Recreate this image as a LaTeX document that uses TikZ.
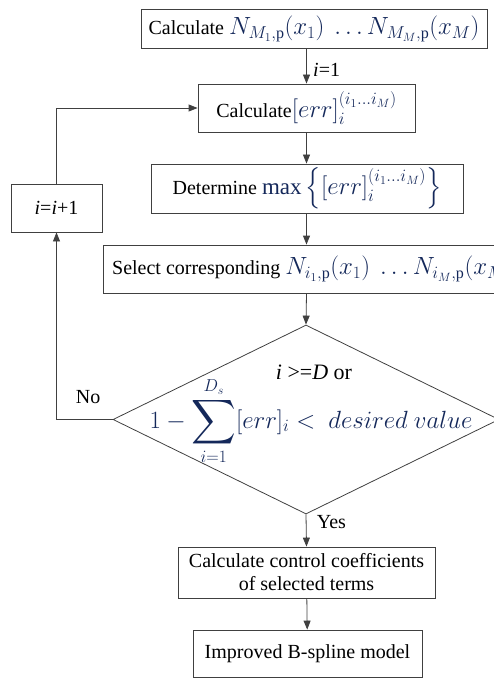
\documentclass[tikz,border=0pt]{standalone}
\usepackage{amsmath}
\usepackage{amssymb}
\usepackage{fontspec}
\setmainfont{LiberationSerif}[Extension=.ttf, UprightFont=*-Regular, ItalicFont=*-Italic, BoldFont=*-Bold, BoldItalicFont=*-BoldItalic]
\usetikzlibrary{arrows.meta,shapes.geometric}
\definecolor{mathblue}{RGB}{20,40,90}
\newcommand{\mth}[1]{{\color{mathblue}\fontsize{23}{27}\selectfont$#1$}}
\newcommand{\bigsum}{\mathop{\vcenter{\hbox{\fontsize{31}{35}\selectfont$\displaystyle\sum$}}}\limits}

\begin{document}
\begin{tikzpicture}[x=1pt, y=-1pt, >={Triangle[length=9pt,width=7pt]},
    every node/.style={font=\rmfamily\fontsize{20}{23}\selectfont},
    flowbox/.style={draw=black!75, line width=0.8pt, inner sep=0pt},
    flowline/.style={draw=black!75, line width=0.8pt}]
    \useasboundingbox (0,0) rectangle (493,679);
    \node[flowbox, minimum width=346, minimum height=39] (calcN) at (314,29) {Calculate \mth{N_{M_1,\mathrm{p}}(x_1)\ \ldots N_{M_M,\mathrm{p}}(x_M)}};
    \node[flowbox, minimum width=217, minimum height=48] (calcErr) at (306.5,108) {Calculate\mth{[err]_i^{(i_1\ldots i_M)}}\hspace{8pt}};
    \node[flowbox, minimum width=312, minimum height=49] (maxErr) at (307,188.5) {Determine \mth{\max\Big\{[err]_i^{(i_1\ldots i_M)}\Big\}}};
    \node[flowbox, minimum width=91, minimum height=48] (inc) at (56.5,208) {\textit{i}=\textit{i}+1};
    \node[flowbox, anchor=west, minimum width=420, minimum height=48] (select) at (103,269) {Select corresponding \mth{N_{i_1,\mathrm{p}}(x_1)\ \ldots N_{i_M,\mathrm{p}}(x_M)}};
    \node[flowbox, shape=diamond, minimum width=386, minimum height=189] (check) at (306,419.5) {};
    \node[font=\rmfamily\fontsize{22}{26}\selectfont] (checkA) at (314,372) {\textit{i} >=\textit{D} or};
    \node[font=\fontsize{25}{29}\selectfont] (checkB) at (311,421) {\color{mathblue}$1-\bigsum_{i=1}^{D_s}[err]_i<\ desired\ value$};
    \node[flowbox, minimum width=257, minimum height=51, align=center] (coef) at (306.5,572.5) {Calculate control coefficients\\of selected terms};
    \node[flowbox, minimum width=229, minimum height=47] (model) at (307.5,653.5) {Improved B-spline model};

    \draw[flowline, ->] (calcN.south -| calcErr.north) -- (calcErr.north) node[pos=0.6, right, xshift=3pt] {\textit{i}=1};
    \draw[flowline, ->] (calcErr) -- (calcErr.south |- maxErr.north);
    \draw[flowline, ->] (calcErr.south |- maxErr.south) -- (calcErr.south |- select.north);
    \draw[flowline, ->] (calcErr.south |- select.south) -- (check.north);
    \draw[flowline, ->] (check.south) -- (coef.north) node[pos=0.25, right, xshift=7pt] {Yes};
    \draw[flowline, ->] (coef) -- (model);
    \draw[flowline, ->] (check.west) -| (inc.south) node[pos=0.2, above=12pt, xshift=-2pt] {No};
    \draw[flowline, ->] (inc.north) |- (calcErr.west);
\end{tikzpicture}
\end{document}
